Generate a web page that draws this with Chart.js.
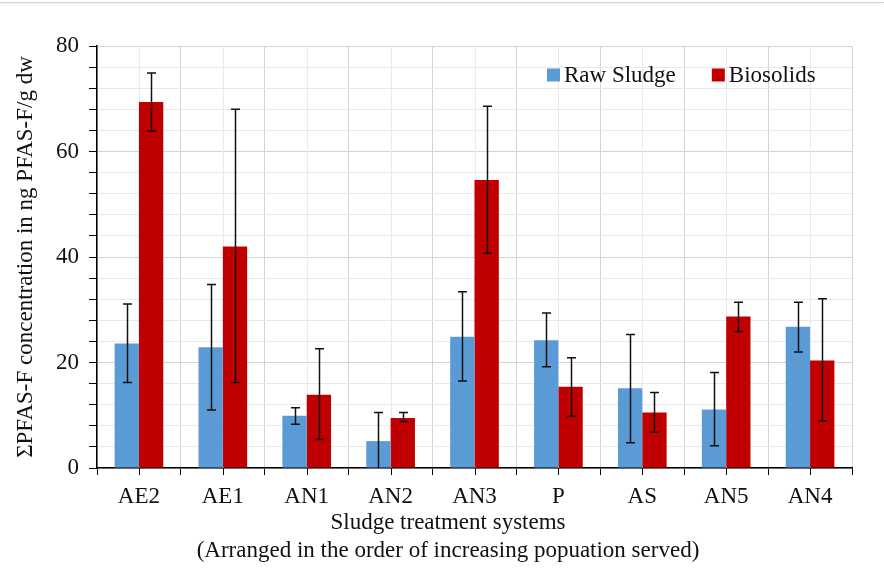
<!DOCTYPE html>
<html>
<head>
<meta charset="utf-8">
<title>PFAS in sludge and biosolids</title>
<script src="https://cdn.jsdelivr.net/npm/chart.js@4.4.1/dist/chart.umd.min.js"></script>
<style>
    body { margin: 0; background: #fff; }
    #wrap { position: relative; width: 884px; height: 574px; }
    #topRule { position: absolute; left: 0; top: 2px; width: 884px; height: 1px; background: #d9d9d9; box-shadow: 0 1px 2px rgba(0,0,0,0.08); }
</style>
</head>
<body>
<div id="wrap">
    <div id="topRule"></div>
    <canvas id="pfasChart" width="884" height="574"></canvas>
</div>
<script>
// Sludge treatment systems, ordered by population served
const categories = ['AE2', 'AE1', 'AN1', 'AN2', 'AN3', 'P', 'AS', 'AN5', 'AN4'];

// ΣPFAS-F (ng PFAS-F/g dw) - raw sludge
const rawSludge     = [23.6, 22.9,  9.9,  5.1, 24.9, 24.2, 15.1, 11.1, 26.8];
const rawSludgeHigh = [31.1, 34.8, 11.4, 10.5, 33.4, 29.4, 25.3, 18.1, 31.4];
const rawSludgeLow  = [16.2, 11.0,  8.3,  0.0, 16.5, 19.2,  4.8,  4.2, 22.0];

// ΣPFAS-F (ng PFAS-F/g dw) - biosolids
const biosolids     = [69.4, 42.0, 13.9,  9.5, 54.6, 15.4, 10.5, 28.7, 20.4];
const biosolidsHigh = [74.9, 68.0, 22.6, 10.5, 68.6, 20.9, 14.3, 31.4, 32.1];
const biosolidsLow  = [63.9, 16.2,  5.4,  8.8, 40.7,  9.8,  6.8, 25.9,  8.9];

const yTicks = [0, 20, 40, 60, 80];
const xTitle = ['Sludge treatment systems', '(Arranged in the order of increasing popuation served)'];

const FONT = '"Liberation Serif", "Times New Roman", serif';
const BLUE = '#5b9bd5';
const RED = '#c00000';
const GRID_MAJOR = '#d4d4d4';
const GRID_MINOR = '#e9e9e9';

// Error bars drawn on top of each bar
const errorBars = {
    id: 'errorBars',
    afterDatasetsDraw(chart) {
        const { ctx, scales: { y } } = chart;
        ctx.save();
        ctx.strokeStyle = '#111';
        ctx.lineWidth = 1.5;
        chart.data.datasets.forEach((ds, di) => {
            const meta = chart.getDatasetMeta(di);
            meta.data.forEach((bar, i) => {
                const x = Math.round(bar.x) + 0.5;
                const top = y.getPixelForValue(ds.errHigh[i]);
                const bottom = y.getPixelForValue(ds.errLow[i]);
                ctx.beginPath();
                ctx.moveTo(x, top);
                ctx.lineTo(x, bottom);
                ctx.moveTo(x - 4.5, top);
                ctx.lineTo(x + 4.5, top);
                if (ds.errLow[i] > 0) {
                    ctx.moveTo(x - 4.5, bottom);
                    ctx.lineTo(x + 4.5, bottom);
                }
                ctx.stroke();
            });
        });
        ctx.restore();
    }
};

// Extra vertical grid lines and tick marks at the category centres
const centreLines = {
    id: 'centreLines',
    beforeDatasetsDraw(chart) {
        const { ctx, chartArea, scales: { x } } = chart;
        ctx.save();
        ctx.lineWidth = 1;
        categories.forEach((c, i) => {
            const px = Math.round(x.getPixelForValue(i)) + 0.5;
            ctx.strokeStyle = GRID_MINOR;
            ctx.beginPath();
            ctx.moveTo(px, chartArea.top);
            ctx.lineTo(px, chartArea.bottom);
            ctx.stroke();
            ctx.strokeStyle = '#000';
            ctx.beginPath();
            ctx.moveTo(px, chartArea.bottom);
            ctx.lineTo(px, chartArea.bottom + 7);
            ctx.stroke();
        });
        ctx.restore();
    }
};

// Legend inside the plot area (top right) and the two-line x-axis title
const annotations = {
    id: 'annotations',
    afterDraw(chart) {
        const { ctx } = chart;
        ctx.save();
        ctx.font = '23px ' + FONT;
        ctx.textBaseline = 'middle';

        const ly = 75;
        let lx = 547;
        chart.data.datasets.forEach(ds => {
            ctx.fillStyle = ds.backgroundColor;
            ctx.fillRect(lx, ly - 6.5, 13, 13);
            lx += 17;
            ctx.fillStyle = '#111';
            ctx.fillText(ds.label, lx, ly + 1);
            lx += ctx.measureText(ds.label).width + 36;
        });

        ctx.textAlign = 'center';
        ctx.fillStyle = '#111';
        xTitle.forEach((line, i) => {
            ctx.fillText(line, 448, 523 + i * 28);
        });
        ctx.restore();
    }
};

const ctx = document.getElementById('pfasChart').getContext('2d');
new Chart(ctx, {
    type: 'bar',
    data: {
        labels: categories,
        datasets: [{
            label: 'Raw Sludge',
            data: rawSludge,
            errHigh: rawSludgeHigh,
            errLow: rawSludgeLow,
            backgroundColor: BLUE,
            categoryPercentage: 0.58,
            barPercentage: 1.0
        }, {
            label: 'Biosolids',
            data: biosolids,
            errHigh: biosolidsHigh,
            errLow: biosolidsLow,
            backgroundColor: RED,
            categoryPercentage: 0.58,
            barPercentage: 1.0
        }]
    },
    options: {
        responsive: false,
        animation: false,
        devicePixelRatio: 1,
        layout: { padding: { left: 0, right: 32, top: 46, bottom: 0 } },
        plugins: {
            legend: { display: false },
            tooltip: { enabled: false }
        },
        scales: {
            x: {
                afterFit: scale => { scale.height = 106; },
                grid: {
                    offset: true,
                    color: GRID_MAJOR,
                    tickColor: '#000',
                    tickLength: 7
                },
                border: { color: '#000', width: 1.5 },
                ticks: {
                    color: '#111',
                    padding: 8,
                    font: { family: FONT, size: 23 }
                }
            },
            y: {
                min: 0,
                max: 80,
                afterFit: scale => { scale.width = 97; },
                grid: {
                    color: c => yTicks.includes(c.tick.value) ? GRID_MAJOR : GRID_MINOR,
                    tickColor: '#000',
                    tickLength: 8
                },
                border: { color: '#000', width: 1.5 },
                ticks: {
                    stepSize: 4,
                    color: '#111',
                    padding: 10,
                    autoSkip: false,
                    font: { family: FONT, size: 23 },
                    callback: v => yTicks.includes(v) ? v : ''
                },
                title: {
                    display: true,
                    text: 'ΣPFAS-F concentration in ng PFAS-F/g dw',
                    color: '#111',
                    font: { family: FONT, size: 23, lineHeight: 1.2 },
                    padding: { top: 12, bottom: 0 }
                }
            }
        }
    },
    plugins: [centreLines, errorBars, annotations]
});
</script>
</body>
</html>
